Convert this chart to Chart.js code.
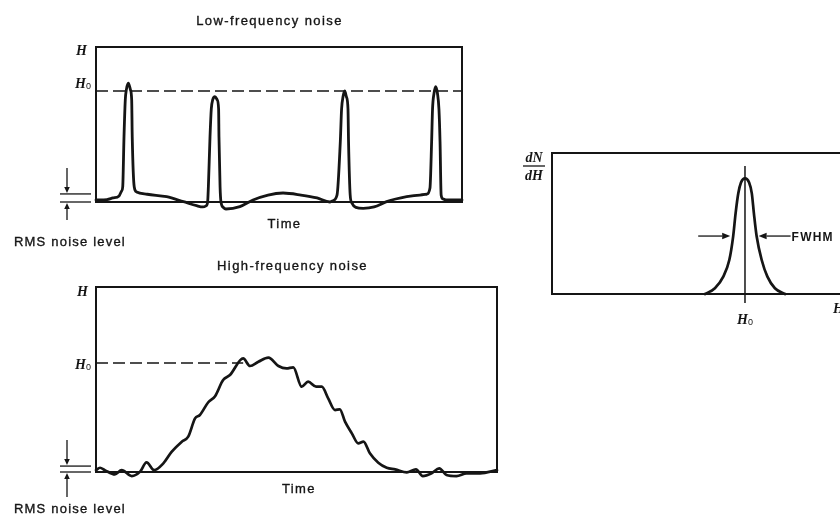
<!DOCTYPE html>
<html><head><meta charset="utf-8">
<script src="https://cdn.jsdelivr.net/npm/chart.js@4.4.1/dist/chart.umd.min.js"></script>
<style>
html,body{margin:0;padding:0;background:#fff;overflow:hidden;width:840px;height:517px}
canvas{position:absolute;left:0;top:0}
</style></head><body>
<canvas id="c1" width="840" height="517"></canvas>
<canvas id="c2" width="840" height="517"></canvas>
<canvas id="c3" width="840" height="517"></canvas>
<script>
// ---------- DATA ----------
const titles = ['Low-frequency noise', 'High-frequency noise'];
const timeLabel = 'Time';
const rmsLabel = 'RMS noise level';
const fwhmLabel = 'FWHM';

// Low-frequency noise trace (time 0..100, height 0..100 where 100 = H)
const lowTime = [0, 3, 4.6, 6.3, 7.0, 7.3, 7.65, 8.0, 8.3, 8.83, 9.4, 9.75, 9.9, 10.45, 11.1,
  14, 19.3, 23.9, 27.5, 29.2, 30.05, 30.5, 30.7, 31.15, 31.5, 31.9, 32.5, 33.1, 33.5, 33.6, 33.9, 34.15, 34.8, 35.5,
  39.3, 42.9, 47, 51.1, 56, 60.4, 63.9, 64.5, 65.85, 66.75, 67.1, 67.5, 67.95, 68.4, 68.85, 69.0, 69.45, 69.9, 71.0,
  73, 76, 79.4, 84.9, 88.5, 90.35, 91.25, 91.7, 91.95, 92.35, 92.8, 93.3, 93.7, 94.0, 94.3, 94.8, 95.8, 100];
const lowHeight = [1.3, 1.6, 2.6, 3.9, 7.1, 9.7, 42, 65.8, 72.5, 76.6, 72.5, 65.8, 42, 9.7, 6.5,
  5, 3.4, 0.2, -2.4, -3.2, -2.5, 0, 9.7, 42, 60, 66, 67.9, 66, 60, 42, 9.7, 0, -3.5, -4.5,
  -3, 1.3, 4.5, 5.8, 4.5, 2.6, 0, 0.6, 4.5, 38.9, 60, 68, 71.6, 68, 60, 38.9, 4.5, -0.6, -3.5,
  -4.1, -3.2, 0.2, 3.4, 4.5, 5, 9, 38.9, 60, 70, 74.4, 70, 60, 38.9, 4.5, 2, 1.3, 1.3];
const lowH0 = 71.6;
const lowRms = 5.2;

// High-frequency noise trace
const highTime = [0, 1, 2.2, 4.7, 6.4, 8.9, 11, 12.6, 14.5, 16.8, 18.9, 21.4, 23, 24.7, 25.9, 28, 29.7,
  31.7, 33.4, 36.7, 38.4, 40.5, 43, 45.5, 47.5, 49.2, 51.3, 52.9, 54.9, 56.3, 57.9, 59.6, 60.8, 62.1,
  63.8, 65.4, 66.7, 68.3, 70.4, 72.5, 74.6, 77.5, 79.8, 81.5, 83.7, 85.6, 87.4, 89.9, 92.4, 95.8, 100];
const highHeight = [1, 2.3, 1, -1.3, 1, -2.2, 0.2, 5.2, 1, 4.7, 11, 16.4, 19.1, 29, 30.8, 37.7, 41,
  49.7, 52.4, 61.4, 57.3, 59.6, 61.8, 57.3, 56, 56.6, 46.1, 48.8, 46.1, 46.1, 39.8, 33.5, 33.9, 27.2,
  20.9, 15.5, 16.4, 10.1, 5, 2.3, 1.4, -0.2, 1.4, -2.2, -0.7, 2, -1.6, -2.2, -0.7, -0.7, 1];
const highH0 = 58.9;
const highH0End = 36.7;
const highRms = 3.2;

// Pulse-height distribution dN/dH
const distH = [51, 54.3, 57.1, 59.1, 60.4, 61.2, 62.1, 63, 64.33, 65.7, 66.6, 67.3, 68.2, 69.9, 71.8, 74.3, 77.7];
const distCount = [0, 4.1, 12.3, 24.1, 41.1, 57.2, 71.4, 79, 82, 79, 71.4, 57.2, 41.1, 24.1, 12.3, 4.1, 0];
const distH0 = 64.33;
const distH0LineTop = 90.8;
const distHalfMax = 41.1;
const fwhmLow = 60.4, fwhmHigh = 68.2;

// ---------- HELPERS ----------
const INK = '#151515';
const SANS = '"Liberation Sans", Arial, sans-serif';
const SERIF = '"Liberation Serif", "DejaVu Serif", serif';

function pts(xs, ys) { return xs.map((x, i) => ({x: x, y: ys[i]})); }

function txt(ctx, s, x, y, font, align, spacing, stroke) {
  ctx.save();
  ctx.font = font;
  ctx.fillStyle = INK; ctx.strokeStyle = INK;
  ctx.textAlign = align || 'left';
  ctx.textBaseline = 'alphabetic';
  try { ctx.letterSpacing = (spacing || 0) + 'px'; } catch (e) {}
  ctx.fillText(s, x, y);
  if (stroke) { ctx.lineWidth = stroke; ctx.strokeText(s, x, y); }
  ctx.restore();
}
function arrow(ctx, x1, y1, x2, y2, hl, hw, lw) {
  ctx.save();
  ctx.strokeStyle = INK; ctx.fillStyle = INK; ctx.lineWidth = lw || 1.3;
  const a = Math.atan2(y2 - y1, x2 - x1);
  const bx = x2 - hl * Math.cos(a), by = y2 - hl * Math.sin(a);
  ctx.beginPath(); ctx.moveTo(x1, y1); ctx.lineTo(bx, by); ctx.stroke();
  ctx.beginPath();
  ctx.moveTo(x2, y2);
  ctx.lineTo(bx + hw * Math.sin(a), by - hw * Math.cos(a));
  ctx.lineTo(bx - hw * Math.sin(a), by + hw * Math.cos(a));
  ctx.closePath(); ctx.fill();
  ctx.restore();
}
function line(ctx, x1, y1, x2, y2, lw, dash) {
  ctx.save();
  ctx.strokeStyle = INK; ctx.lineWidth = lw;
  ctx.setLineDash(dash || []);
  ctx.beginPath(); ctx.moveTo(x1, y1); ctx.lineTo(x2, y2); ctx.stroke();
  ctx.restore();
}
function hLabel(ctx, xRight, yBase, sub) {
  ctx.save();
  ctx.fillStyle = INK; ctx.textBaseline = 'alphabetic';
  if (sub) {
    ctx.font = '9px ' + SANS; ctx.textAlign = 'right';
    ctx.fillText('0', xRight, yBase + 1);
    ctx.font = 'bold italic 14px ' + SERIF;
    ctx.fillText('H', xRight - 5, yBase);
  } else {
    ctx.font = 'bold italic 14px ' + SERIF; ctx.textAlign = 'right';
    ctx.fillText('H', xRight, yBase);
  }
  ctx.restore();
}
function box(ctx, a, extendRight) {
  ctx.save();
  ctx.strokeStyle = INK; ctx.lineWidth = 2;
  ctx.strokeRect(a.left, a.top, (a.right - a.left) + (extendRight || 0), a.bottom - a.top);
  ctx.restore();
}
function rmsMarker(ctx, chart, rms, upLen, textDy) {
  const a = chart.chartArea, y = chart.scales.y;
  const yB = y.getPixelForValue(0), yR = y.getPixelForValue(rms);
  const x0 = a.left - 36, x1 = a.left - 5, xa = a.left - 29;
  line(ctx, x0, yR, x1, yR, 1.3);
  line(ctx, x0, yB, x1, yB, 1.3);
  arrow(ctx, xa, yR - 26, xa, yR - 1, 6, 2.8, 1.3);
  arrow(ctx, xa, yB + upLen, xa, yB + 1, 6, 2.8, 1.3);
  txt(ctx, rmsLabel, a.left - 82, yB + textDy, '13px ' + SANS, 'left', 1.2, 0.35);
}

function baseOptions(pad, xMax) {
  return {
    responsive: false, animation: false, events: [],
    layout: {padding: pad},
    plugins: {legend: {display: false}, tooltip: {enabled: false}, title: {display: false}},
    scales: {
      x: {type: 'linear', display: false, min: 0, max: xMax},
      y: {type: 'linear', display: false, min: 0, max: 100}
    }
  };
}
function ds(data, lw) {
  return {data: data, borderColor: INK, borderWidth: lw, pointRadius: 0, fill: false,
    cubicInterpolationMode: 'monotone', clip: false, borderJoinStyle: 'round', borderCapStyle: 'round'};
}

// ---------- PANEL 1 : Low-frequency noise ----------
new Chart(document.getElementById('c1'), {
  type: 'line',
  data: {datasets: [ds(pts(lowTime, lowHeight), 2.8)]},
  options: baseOptions({left: 96, top: 47, right: 378, bottom: 315}, 100),
  plugins: [{
    id: 'deco1',
    beforeDatasetsDraw(chart) {
      const ctx = chart.ctx, a = chart.chartArea, y = chart.scales.y;
      const yH0 = y.getPixelForValue(lowH0);
      line(ctx, a.left, yH0, a.right, yH0, 1.6, [12, 5]);
    },
    afterDatasetsDraw(chart) {
      const ctx = chart.ctx, a = chart.chartArea, x = chart.scales.x, y = chart.scales.y;
      box(ctx, a);
      hLabel(ctx, a.left - 9, a.top + 8, false);
      hLabel(ctx, a.left - 5, y.getPixelForValue(lowH0) - 3, true);
      txt(ctx, titles[0], x.getPixelForValue(47.4), a.top - 22, '13px ' + SANS, 'center', 1.4, 0.35);
      txt(ctx, timeLabel, x.getPixelForValue(51.5), a.bottom + 26, '13px ' + SANS, 'center', 1.4, 0.35);
      rmsMarker(ctx, chart, lowRms, 18, 44);
    }
  }]
});

// ---------- PANEL 2 : High-frequency noise ----------
new Chart(document.getElementById('c2'), {
  type: 'line',
  data: {datasets: [ds(pts(highTime, highHeight), 2.7)]},
  options: baseOptions({left: 96, top: 287, right: 343, bottom: 45}, 100),
  plugins: [{
    id: 'deco2',
    beforeDatasetsDraw(chart) {
      const ctx = chart.ctx, a = chart.chartArea, x = chart.scales.x, y = chart.scales.y;
      const yH0 = y.getPixelForValue(highH0);
      line(ctx, a.left, yH0, x.getPixelForValue(highH0End), yH0, 1.6, [12, 5]);
    },
    afterDatasetsDraw(chart) {
      const ctx = chart.ctx, a = chart.chartArea, x = chart.scales.x, y = chart.scales.y;
      box(ctx, a);
      hLabel(ctx, a.left - 8, a.top + 9, false);
      hLabel(ctx, a.left - 5, y.getPixelForValue(highH0) + 6, true);
      txt(ctx, titles[1], x.getPixelForValue(49), a.top - 17, '13px ' + SANS, 'center', 1.4, 0.35);
      txt(ctx, timeLabel, x.getPixelForValue(50.6), a.bottom + 21, '13px ' + SANS, 'center', 1.4, 0.35);
      rmsMarker(ctx, chart, highRms, 25, 41);
    }
  }]
});

// ---------- PANEL 3 : dN/dH distribution ----------
new Chart(document.getElementById('c3'), {
  type: 'line',
  data: {datasets: [ds(pts(distH, distCount), 2.7)]},
  options: baseOptions({left: 552, top: 153, right: 0, bottom: 223}, 96),
  plugins: [{
    id: 'deco3',
    afterDatasetsDraw(chart) {
      const ctx = chart.ctx, a = chart.chartArea, x = chart.scales.x, y = chart.scales.y;
      box(ctx, a, 20);
      const xc = x.getPixelForValue(distH0);
      line(ctx, xc, y.getPixelForValue(distH0LineTop), xc, a.bottom + 9, 1.5);
      // H0 label under axis
      ctx.save();
      ctx.fillStyle = INK; ctx.textBaseline = 'alphabetic';
      ctx.font = 'bold italic 14px ' + SERIF; ctx.textAlign = 'right';
      ctx.fillText('H', xc + 3, a.bottom + 30);
      ctx.font = '9px ' + SANS; ctx.textAlign = 'left';
      ctx.fillText('0', xc + 3, a.bottom + 31);
      ctx.restore();
      // dN/dH fraction
      const fx = a.left - 18;
      txt(ctx, 'dN', fx, a.top + 9, 'bold italic 14px ' + SERIF, 'center', 0);
      line(ctx, fx - 11, a.top + 13, fx + 11, a.top + 13, 1.3);
      txt(ctx, 'dH', fx, a.top + 27, 'bold italic 14px ' + SERIF, 'center', 0);
      // FWHM arrows
      const yh = y.getPixelForValue(distHalfMax);
      const xl = x.getPixelForValue(fwhmLow), xr = x.getPixelForValue(fwhmHigh);
      arrow(ctx, xl - 35, yh, xl - 3, yh, 8, 3.2, 1.3);
      arrow(ctx, xr + 34, yh, xr + 2, yh, 8, 3.2, 1.3);
      txt(ctx, fwhmLabel, xr + 35, yh + 5, 'bold 12px ' + SANS, 'left', 1.2);
      // axis label H (clipped at page edge)
      txt(ctx, 'H', x.getPixelForValue(93.7), a.bottom + 19, 'bold italic 14px ' + SERIF, 'left', 0);
    }
  }]
});
</script>
</body></html>
